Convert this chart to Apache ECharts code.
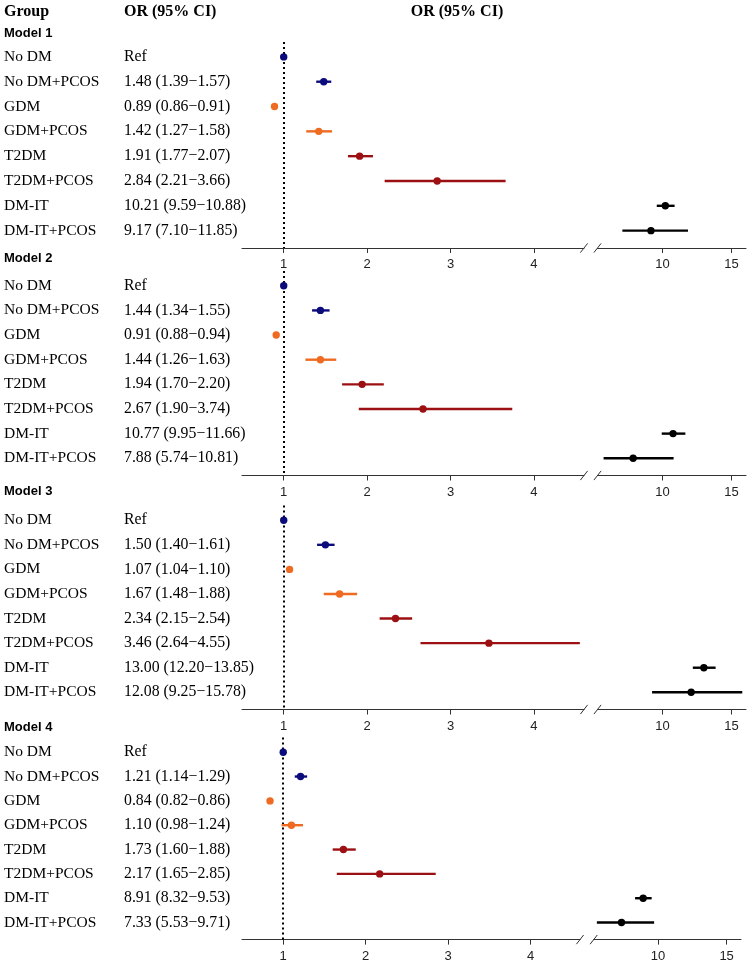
<!DOCTYPE html>
<html><head><meta charset="utf-8">
<script src="https://cdn.jsdelivr.net/npm/echarts@6/dist/echarts.min.js"></script>
<style>html,body{margin:0;padding:0;background:#fff}#c{width:750px;height:966px}</style>
</head><body><div id="c"></div>
<script>
// ---------- data ----------
const groups = ['No DM','No DM+PCOS','GDM','GDM+PCOS','T2DM','T2DM+PCOS','DM-IT','DM-IT+PCOS'];
const modelNames = ['Model 1','Model 2','Model 3','Model 4'];

const model1OR = [1, 1.48, 0.89, 1.42, 1.91, 2.84, 10.21, 9.17];
const model1Lo = [1, 1.39, 0.86, 1.27, 1.77, 2.21, 9.59, 7.10];
const model1Hi = [1, 1.57, 0.91, 1.58, 2.07, 3.66, 10.88, 11.85];

const model2OR = [1, 1.44, 0.91, 1.44, 1.94, 2.67, 10.77, 7.88];
const model2Lo = [1, 1.34, 0.88, 1.26, 1.70, 1.90, 9.95, 5.74];
const model2Hi = [1, 1.55, 0.94, 1.63, 2.20, 3.74, 11.66, 10.81];

const model3OR = [1, 1.50, 1.07, 1.67, 2.34, 3.46, 13.00, 12.08];
const model3Lo = [1, 1.40, 1.04, 1.48, 2.15, 2.64, 12.20, 9.25];
const model3Hi = [1, 1.61, 1.10, 1.88, 2.54, 4.55, 13.85, 15.78];

const model4OR = [1, 1.21, 0.84, 1.10, 1.73, 2.17, 8.91, 7.33];
const model4Lo = [1, 1.14, 0.82, 0.98, 1.60, 1.65, 8.32, 5.53];
const model4Hi = [1, 1.29, 0.86, 1.24, 1.88, 2.85, 9.53, 9.71];

const leftTicks = [1, 2, 3, 4];
const rightTicks = [10, 15];
const refValue = 1;
const leftRange = [0.5, 4.6];
const rightRange = [5.3, 16.05];

// ---------- styles / layout ----------
const palette = ['#0B0B7C','#0B0B7C','#EE6B21','#EE6B21','#9C1013','#9C1013','#000000','#000000'];
const models = [
  {or: model1OR, lo: model1Lo, hi: model1Hi},
  {or: model2OR, lo: model2Lo, hi: model2Hi},
  {or: model3OR, lo: model3Lo, hi: model3Hi},
  {or: model4OR, lo: model4Lo, hi: model4Hi}
];
const layout = [
  {top: 42,    height: 206,   lx: 242, lw: 342, rx: 597.5, rw: 148.5, head: 33},
  {top: 271,   height: 204.5, lx: 242, lw: 342, rx: 597.5, rw: 148.5, head: 258.5},
  {top: 505.5, height: 204,   lx: 242, lw: 342, rx: 597.5, rw: 148.5, head: 491},
  {top: 737.6, height: 202,   lx: 242, lw: 338, rx: 593.7, rw: 147.3, head: 727.5}
];
const Y_MIN = 0.4, Y_MAX = 8.7;
const serif = '"Liberation Serif","Times New Roman",serif';
const sans = '"Liberation Sans",Arial,sans-serif';

function fmt(m, i) {
  if (i === 0) return 'Ref';
  return m.or[i].toFixed(2) + ' (' + m.lo[i].toFixed(2) + '\u2212' + m.hi[i].toFixed(2) + ')';
}

function renderCI(params, api) {
  const row = api.value(0), or = api.value(1), lo = api.value(2), hi = api.value(3), ci = api.value(4);
  const color = palette[ci];
  const p = api.coord([or, row]);
  const children = [];
  if (hi > lo) {
    const a = api.coord([lo, row]), b = api.coord([hi, row]);
    children.push({type: 'line', shape: {x1: a[0], y1: a[1], x2: b[0], y2: b[1]},
      style: {stroke: color, lineWidth: 2.4}});
  }
  children.push({type: 'circle', shape: {cx: p[0], cy: p[1], r: 3.7}, style: {fill: color}});
  return {type: 'group', children};
}
function renderSlash(params, api) {
  const p = api.coord([api.value(0), api.value(1)]);
  return {type: 'line', shape: {x1: p[0] - 3.6, y1: p[1] + 4.6, x2: p[0] + 3.6, y2: p[1] - 4.6},
    style: {stroke: '#333', lineWidth: 1}};
}

const grid = [], xAxis = [], yAxis = [], series = [];
const axisColor = '#333';
models.forEach((m, k) => {
  const L = layout[k];
  const gl = k * 2, gr = k * 2 + 1;
  grid.push({left: L.lx, top: L.top, width: L.lw, height: L.height});
  grid.push({left: L.rx, top: L.top, width: L.rw, height: L.height});
  const xCommon = (ticks) => ({
    type: 'value', position: 'bottom',
    axisLine: {onZero: false, lineStyle: {color: axisColor, width: 1}},
    axisTick: {customValues: ticks, length: 5, lineStyle: {color: axisColor, width: 1}},
    axisLabel: {customValues: ticks, margin: 10, fontFamily: sans, fontSize: 13, color: '#222'},
    splitLine: {show: false}
  });
  xAxis.push(Object.assign(xCommon(leftTicks), {gridIndex: gl, min: leftRange[0], max: leftRange[1]}));
  xAxis.push(Object.assign(xCommon(rightTicks), {gridIndex: gr, min: rightRange[0], max: rightRange[1]}));
  yAxis.push({
    gridIndex: gl, type: 'value', min: Y_MIN, max: Y_MAX, inverse: true,
    axisLine: {show: false}, axisTick: {show: false}, splitLine: {show: false},
    axisLabel: {
      customValues: [1,2,3,4,5,6,7,8], align: 'left', margin: L.lx - 4,
      formatter: (v) => { const i = Math.round(v) - 1; return '{g|' + groups[i] + '}{v|' + fmt(m, i) + '}'; },
      rich: {
        g: {width: 120, fontFamily: serif, fontSize: 15.5, color: '#000'},
        v: {fontFamily: serif, fontSize: 15.8, color: '#000'}
      }
    }
  });
  yAxis.push({gridIndex: gr, type: 'value', min: Y_MIN, max: Y_MAX, inverse: true, show: false});

  const leftData = [], rightData = [];
  groups.forEach((g, i) => {
    const item = [i + 1, m.or[i], m.lo[i], m.hi[i], i];
    (m.lo[i] > leftRange[1] ? rightData : leftData).push(item);
  });
  series.push({
    type: 'custom', xAxisIndex: gl, yAxisIndex: gl, renderItem: renderCI, data: leftData,
    encode: {x: [1, 2, 3], y: 0}, z: 5,
    markLine: {symbol: 'none', silent: true, label: {show: false}, animation: false,
      lineStyle: {type: [2, 3], width: 2, color: '#000'}, data: [{xAxis: refValue}]}
  });
  series.push({type: 'custom', xAxisIndex: gr, yAxisIndex: gr, renderItem: renderCI, data: rightData,
    encode: {x: [1, 2, 3], y: 0}, z: 5});
  series.push({type: 'custom', xAxisIndex: gl, yAxisIndex: gl, renderItem: renderSlash,
    data: [[leftRange[1], Y_MAX]], encode: {x: 0, y: 1}, z: 6});
  series.push({type: 'custom', xAxisIndex: gr, yAxisIndex: gr, renderItem: renderSlash,
    data: [[rightRange[0], Y_MAX]], encode: {x: 0, y: 1}, z: 6});
});

const graphic = [
  {type: 'text', x: 4, y: 12, style: {text: 'Group', font: 'bold 16px ' + serif, fill: '#000', verticalAlign: 'middle'}},
  {type: 'text', x: 124, y: 12, style: {text: 'OR (95% CI)', font: 'bold 16px ' + serif, fill: '#000', verticalAlign: 'middle'}},
  {type: 'text', x: 457, y: 12, style: {text: 'OR (95% CI)', font: 'bold 16px ' + serif, fill: '#000', align: 'center', verticalAlign: 'middle'}}
];
modelNames.forEach((name, k) => {
  graphic.push({type: 'text', x: 4, y: layout[k].head,
    style: {text: name, font: 'bold 13px ' + sans, fill: '#000', verticalAlign: 'middle'}});
});

const chart = echarts.init(document.getElementById('c'), null, {renderer: 'canvas'});
chart.setOption({
  animation: false,
  backgroundColor: '#fff',
  grid, xAxis, yAxis, series, graphic
});
</script>
</body></html>
